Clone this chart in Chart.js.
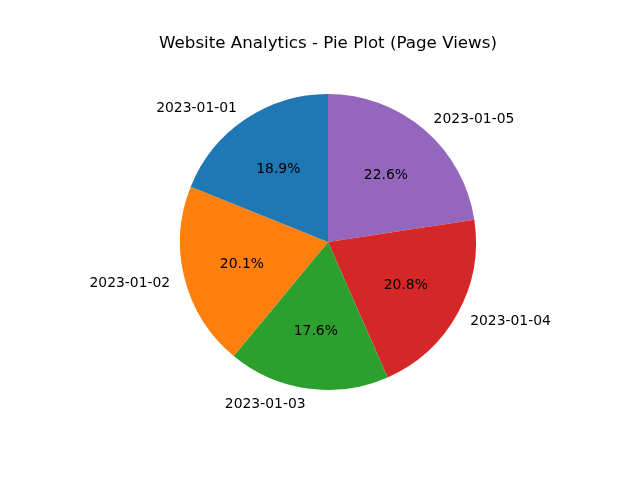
<!DOCTYPE html>
<html>
<head>
<meta charset="utf-8">
<script src="https://cdn.jsdelivr.net/npm/chart.js@4/dist/chart.umd.min.js"></script>
<style>
html,body{margin:0;padding:0;background:#fff;}
#wrap{width:640px;height:480px;}
</style>
</head>
<body>
<div id="wrap"><canvas id="c" width="640" height="480"></canvas></div>
<script>
const chartTitle = "Website Analytics - Pie Plot (Page Views)";
const categories = ["2023-01-01", "2023-01-02", "2023-01-03", "2023-01-04", "2023-01-05"];
const pageViews = [18.9, 20.1, 17.6, 20.8, 22.6];
const sliceColors = ["#1f77b4", "#ff7f0e", "#2ca02c", "#d62728", "#9467bd"];

// Matplotlib draws counter-clockwise from the top; Chart.js draws clockwise,
// so feed the slices in reverse order.
const labelsRev = categories.slice().reverse();
const valuesRev = pageViews.slice().reverse();
const colorsRev = sliceColors.slice().reverse();

const FONT = "'DejaVu Sans', sans-serif";

const piePlugin = {
  id: 'pieLabels',
  afterDraw(chart) {
    const ctx = chart.ctx;
    const meta = chart.getDatasetMeta(0);
    const total = valuesRev.reduce((a, b) => a + b, 0);
    ctx.save();
    ctx.fillStyle = '#000';
    ctx.textBaseline = 'middle';
    meta.data.forEach((arc, i) => {
      const mid = (arc.startAngle + arc.endAngle) / 2;
      const r = arc.outerRadius;
      const c = Math.cos(mid), s = Math.sin(mid);
      // category label
      ctx.font = '13.9px ' + FONT;
      ctx.textAlign = c > 0 ? 'left' : 'right';
      ctx.fillText(labelsRev[i], arc.x + c * r * 1.1 - (c > 0 ? 0.5 : 0), arc.y + s * r * 1.1 + 1);
      // percentage
      ctx.textAlign = 'center';
      const pct = (valuesRev[i] / total * 100).toFixed(1) + '%';
      ctx.fillText(pct, arc.x + c * r * 0.6, arc.y + s * r * 0.6 + 1);
    });
    // title
    ctx.font = '16.7px ' + FONT;
    ctx.textAlign = 'center';
    ctx.textBaseline = 'middle';
    ctx.fillText(chartTitle, 328, 44);
    ctx.restore();
  }
};

new Chart(document.getElementById('c'), {
  type: 'pie',
  data: {
    labels: labelsRev,
    datasets: [{
      data: valuesRev,
      backgroundColor: colorsRev,
      borderWidth: 0
    }]
  },
  options: {
    responsive: false,
    animation: false,
    rotation: 0,
    layout: { padding: { left: 180, right: 164, top: 94, bottom: 90 } },
    plugins: {
      legend: { display: false },
      tooltip: { enabled: false },
      title: { display: false }
    }
  },
  plugins: [piePlugin]
});
</script>
</body>
</html>
